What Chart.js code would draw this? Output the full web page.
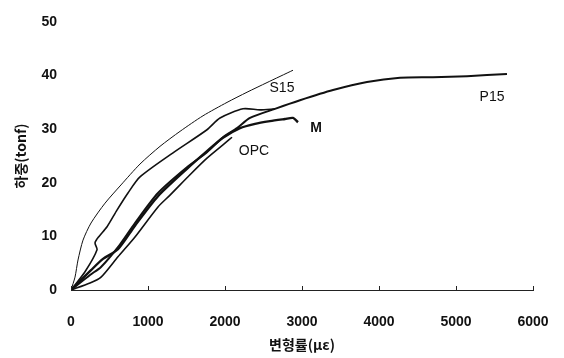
<!DOCTYPE html>
<html>
<head>
<meta charset="utf-8">
<script src="https://cdn.jsdelivr.net/npm/chart.js@4.4.0/dist/chart.umd.min.js"></script>
<style>
html,body{margin:0;padding:0;background:#fff;}
#wrap{width:564px;height:358px;}
</style>
</head>
<body>
<div id="wrap"><canvas id="c" width="564" height="358"></canvas></div>
<script>
// ---- data (strain in με, load in tonf) ----
const s15X = [0, 52, 91, 156, 260, 442, 649, 896, 1156, 1416, 1714, 2026, 2286, 2546, 2883];
const s15Y = [0, 2.4, 5.6, 9.3, 12.5, 16.2, 19.6, 23.5, 26.8, 29.6, 32.5, 35.0, 36.9, 38.7, 41.0];

const bX = [0, 182, 338, 312, 364, 468, 597, 740, 896, 1325, 1766, 1935, 2234, 2455, 2649];
const bY = [0, 3.4, 7.5, 8.8, 10.0, 11.8, 14.9, 18.1, 21.1, 25.6, 29.9, 32.1, 33.8, 33.6, 33.8];

const p15X = [0, 247, 390, 610, 831, 1130, 1506, 1766, 1974, 2156, 2325, 2649, 2974, 3403, 3844, 4273, 4701, 5143, 5662];
const p15Y = [0, 2.8, 4.3, 8.0, 12.5, 18.1, 22.9, 25.7, 28.5, 30.2, 32.1, 33.8, 35.4, 37.3, 38.8, 39.6, 39.7, 39.9, 40.3];

const mX = [0, 260, 416, 610, 831, 1130, 1506, 1766, 1974, 2195, 2390, 2584, 2779, 2883, 2948];
const mY = [0, 3.7, 5.8, 7.6, 12.0, 17.5, 22.6, 25.9, 28.4, 30.2, 31.0, 31.5, 31.9, 32.1, 31.3];

const opcX = [0, 247, 390, 610, 831, 1130, 1286, 1545, 1766, 2000, 2091];
const opcY = [0, 1.3, 2.4, 6.2, 9.9, 15.5, 17.7, 21.5, 24.6, 27.4, 28.5];

const xTicks = [0, 1000, 2000, 3000, 4000, 5000, 6000];
const yTicks = [0, 10, 20, 30, 40, 50];

const labelText = ['S15', 'P15', 'M', 'OPC'];
const labelX = [2740, 5468, 3182, 2377];
const labelY = [37.7, 36.0, 30.2, 25.9];
const labelBold = [false, false, true, false];

function pts(xs, ys){ return xs.map((x,i)=>({x:x, y:ys[i]})); }

const lineCol = '#111';
function ds(label, xs, ys, w){
  return {label, data: pts(xs, ys), showLine:true, borderColor:lineCol, borderWidth:w,
          pointRadius:0, fill:false, tension:0.25};
}

const textPlugin = {
  id:'textLabels',
  afterDatasetsDraw(chart){
    const {ctx, scales:{x, y}} = chart;
    ctx.save();
    ctx.strokeStyle = '#222';
    ctx.lineWidth = 1;
    xTicks.forEach(v=>{
      const px = Math.round(x.getPixelForValue(v)) + 0.5;
      const py = y.getPixelForValue(0);
      ctx.beginPath(); ctx.moveTo(px, py); ctx.lineTo(px, py-4); ctx.stroke();
    });
    ctx.fillStyle = '#111';
    ctx.textAlign = 'center';
    ctx.textBaseline = 'middle';
    labelText.forEach((t,i)=>{
      ctx.font = (labelBold[i] ? 'bold ' : '') + '14px "Liberation Sans", Arial, sans-serif';
      ctx.fillText(t, x.getPixelForValue(labelX[i]), y.getPixelForValue(labelY[i]));
    });
    ctx.restore();
  }
};

new Chart(document.getElementById('c'), {
  type:'scatter',
  data:{ datasets:[
    ds('S15', s15X, s15Y, 1),
    ds('B', bX, bY, 1.6),
    ds('P15', p15X, p15Y, 2),
    ds('M', mX, mY, 2.4),
    ds('OPC', opcX, opcY, 1.6)
  ]},
  options:{
    responsive:false,
    animation:false,
    devicePixelRatio:1,
    layout:{ padding:{ left:0, right:31, top:22, bottom:0 } },
    plugins:{ legend:{display:false}, tooltip:{enabled:false} },
    scales:{
      x:{
        type:'linear', min:0, max:6000,
        afterFit(s){ s.height = 68; s.paddingLeft = 0; s.paddingRight = 0; },
        afterBuildTicks(s){ s.ticks = xTicks.map(v=>({value:v})); },
        grid:{ display:true, drawOnChartArea:false, drawTicks:false },
        border:{ display:true, color:'#222', width:1 },
        ticks:{ padding:24, color:'#111', callback:(v)=>String(v),
                font:{ family:'"Liberation Sans", Arial, sans-serif', size:14, weight:'bold' }, maxRotation:0 },
        title:{ display:true, text:'변형률(με)', color:'#111', padding:{top:0, bottom:5},
                font:{ family:'"Noto Sans CJK KR", "Liberation Sans", sans-serif', size:14, weight:'bold' } }
      },
      y:{
        type:'linear', min:0, max:50,
        afterFit(s){ s.width = 71; s.paddingTop = 0; s.paddingBottom = 0; },
        afterBuildTicks(s){ s.ticks = yTicks.map(v=>({value:v})); },
        grid:{ display:false, drawTicks:false },
        border:{ display:false },
        ticks:{ padding:14, color:'#111', callback:(v)=>String(v),
                font:{ family:'"Liberation Sans", Arial, sans-serif', size:14, weight:'bold' } },
        title:{ display:true, text:'하중(tonf)', color:'#111', padding:{top:12, bottom:0},
                font:{ family:'"Noto Sans CJK KR", "Liberation Sans", sans-serif', size:14, weight:'bold' } }
      }
    }
  },
  plugins:[textPlugin]
});
</script>
</body>
</html>
